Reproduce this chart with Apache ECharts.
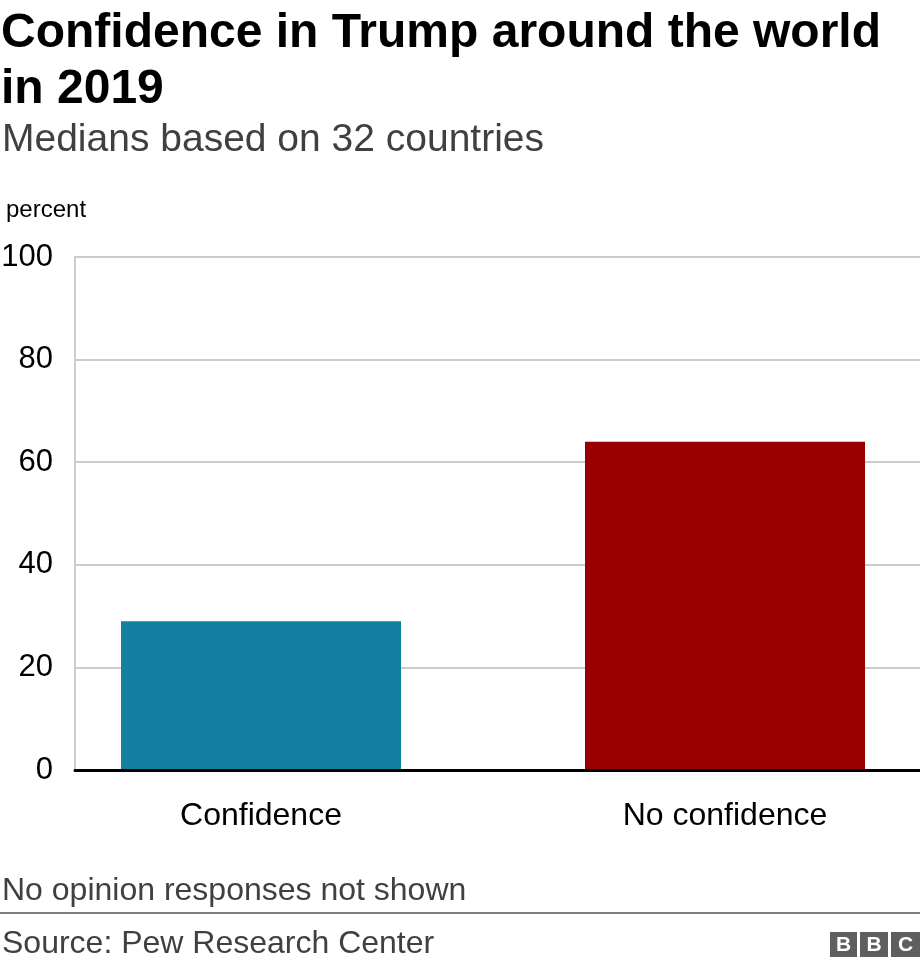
<!DOCTYPE html>
<html>
<head>
<meta charset="utf-8">
<script src="https://cdn.jsdelivr.net/npm/echarts@6/dist/echarts.min.js"></script>
<style>html,body{margin:0;padding:0;background:#fff}#c{width:920px;height:968px}</style>
</head>
<body>
<div id="c"></div>
<script>
const categories = ['Confidence', 'No confidence'];
const values = [29, 64];
const barColors = ['#1380A1', '#990000'];
const yTicks = [0, 20, 40, 60, 80, 100];

const FONT = 'Liberation Sans, Arial, Helvetica, sans-serif';
const chart = echarts.init(document.getElementById('c'), null, {renderer: 'canvas'});
chart.setOption({
  backgroundColor: '#fff',
  animation: false,
  textStyle: {fontFamily: FONT},
  title: [
    {text: 'Confidence in Trump around the world\nin 2019', left: 1, top: 6, padding: 0,
     textStyle: {fontFamily: FONT, fontWeight: 'bold', fontSize: 48, lineHeight: 56, color: '#000'}},
    {text: 'Medians based on 32 countries', left: 2, top: 121, padding: 0,
     textStyle: {fontFamily: FONT, fontWeight: 'normal', fontSize: 39, color: '#404040'}},
    {text: 'percent', left: 6, top: 198, padding: 0,
     textStyle: {fontFamily: FONT, fontWeight: 'normal', fontSize: 24, color: '#000'}},
    {text: 'No opinion responses not shown', left: 2, top: 875, padding: 0,
     textStyle: {fontFamily: FONT, fontWeight: 'normal', fontSize: 32, color: '#404040'}},
    {text: 'Source: Pew Research Center', left: 2, top: 928, padding: 0,
     textStyle: {fontFamily: FONT, fontWeight: 'normal', fontSize: 32, color: '#404040'}}
  ],
  grid: [
    {left: 75, width: 845, top: 257, bottom: 198, outerBoundsMode: 'none', containLabel: false},
    {left: 29, width: 928, top: 257, bottom: 198, outerBoundsMode: 'none', containLabel: false}
  ],
  xAxis: [
    {type: 'category', gridIndex: 0, data: categories, z: 10,
     axisLine: {show: true, lineStyle: {color: '#000', width: 3}},
     axisTick: {show: false}, axisLabel: {show: false}},
    {type: 'category', gridIndex: 1, data: categories,
     axisLine: {show: false}, axisTick: {show: false},
     axisLabel: {show: true, margin: 30, fontSize: 32, color: '#000', fontFamily: FONT}}
  ],
  yAxis: [
    {type: 'value', gridIndex: 0, min: 0, max: 100, interval: 20,
     axisLine: {show: true, lineStyle: {color: '#cccccc', width: 2}},
     axisTick: {show: false},
     splitLine: {show: true, lineStyle: {color: '#cccccc', width: 2}},
     axisLabel: {margin: 22, fontSize: 31, color: '#000', fontFamily: FONT,
       formatter: v => yTicks.includes(v) ? String(v) : ''}},
    {type: 'value', gridIndex: 1, min: 0, max: 100, interval: 20, show: false}
  ],
  series: [{
    type: 'bar', xAxisIndex: 1, yAxisIndex: 1, barWidth: 280,
    data: values.map((v, i) => ({value: v, itemStyle: {color: barColors[i]}}))
  }],
  graphic: [
    {type: 'rect', shape: {x: 0, y: 912, width: 920, height: 2}, style: {fill: '#7f7f7f'}},
    {type: 'group', left: 830, top: 932, children: [
      {type: 'rect', shape: {x: 0, y: 0, width: 27, height: 25}, style: {fill: '#5f5f5f'}},
      {type: 'text', x: 13.5, y: 13, style: {text: 'B', fill: '#fff', font: 'bold 21px ' + FONT, align: 'center', verticalAlign: 'middle'}},
      {type: 'rect', shape: {x: 30, y: 0, width: 28, height: 25}, style: {fill: '#5f5f5f'}},
      {type: 'text', x: 44, y: 13, style: {text: 'B', fill: '#fff', font: 'bold 21px ' + FONT, align: 'center', verticalAlign: 'middle'}},
      {type: 'rect', shape: {x: 61, y: 0, width: 29, height: 25}, style: {fill: '#5f5f5f'}},
      {type: 'text', x: 75.5, y: 13, style: {text: 'C', fill: '#fff', font: 'bold 21px ' + FONT, align: 'center', verticalAlign: 'middle'}}
    ]}
  ]
});
</script>
</body>
</html>
